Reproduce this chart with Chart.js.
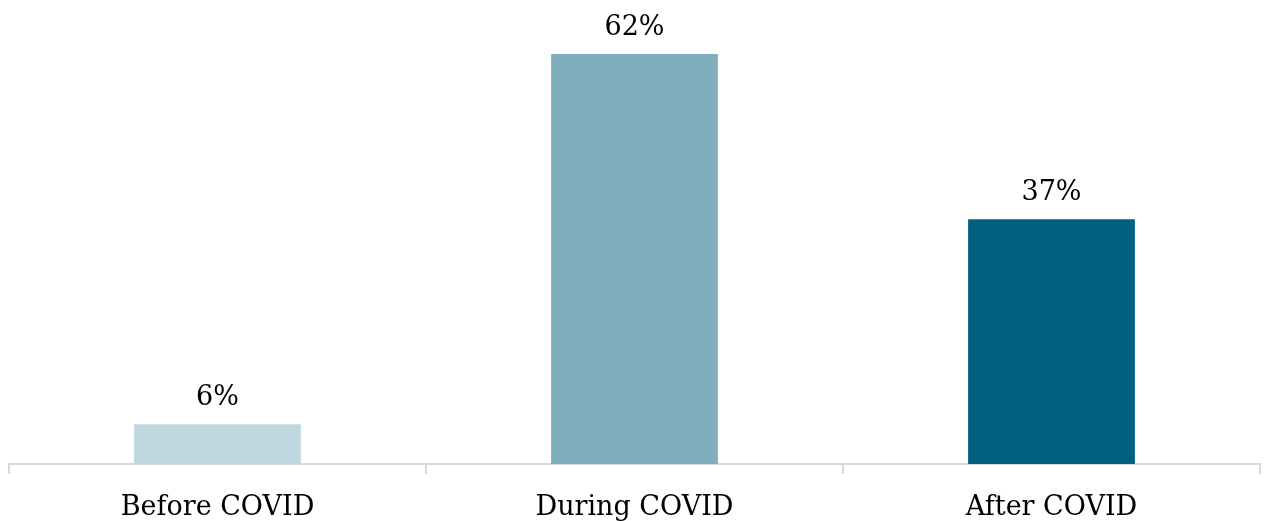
<!DOCTYPE html>
<html>
<head>
<meta charset="utf-8">
<script src="https://cdn.jsdelivr.net/npm/chart.js@4.4.1/dist/chart.umd.min.js"></script>
<style>
  html, body { margin: 0; padding: 0; background: #ffffff; }
  #wrap { width: 1265px; height: 521px; position: relative; }
</style>
</head>
<body>
<div id="wrap"><canvas id="c"></canvas></div>
<script>
// Share of respondents by period
const categories = ['Before COVID', 'During COVID', 'After COVID'];
const shares = [6, 62, 37];
const barColors = ['#bfd8df', '#80aebd', '#00617f'];

const FONT = "'DejaVu Serif', 'Liberation Serif', serif";

// Percentage labels above each bar
const valueLabels = {
  id: 'valueLabels',
  afterDatasetsDraw(chart) {
    const ctx = chart.ctx;
    const meta = chart.getDatasetMeta(0);
    ctx.save();
    ctx.font = "27px " + FONT;
    ctx.fillStyle = '#000000';
    ctx.textAlign = 'center';
    ctx.textBaseline = 'alphabetic';
    meta.data.forEach((bar, i) => {
      ctx.fillText(shares[i] + '%', bar.x, bar.y - 19);
    });
    ctx.restore();
  }
};

new Chart(document.getElementById('c'), {
  type: 'bar',
  data: {
    labels: categories,
    datasets: [{
      data: shares,
      backgroundColor: barColors,
      borderWidth: 0,
      barPercentage: 0.4,
      categoryPercentage: 1.0
    }]
  },
  options: {
    responsive: true,
    maintainAspectRatio: false,
    animation: false,
    layout: { padding: { left: 9, right: 5, top: 1, bottom: 0 } },
    plugins: {
      legend: { display: false },
      tooltip: { enabled: false }
    },
    scales: {
      x: {
        grid: {
          display: true,
          drawOnChartArea: false,
          drawTicks: true,
          tickLength: 10,
          color: '#d9d9d9',
          lineWidth: 2,
          offset: true
        },
        border: { display: true, color: '#d9d9d9', width: 2 },
        ticks: {
          color: '#000000',
          font: { family: FONT, size: 27 },
          padding: 18,
          maxRotation: 0
        },
        afterFit(scale) { scale.height = 57; }
      },
      y: {
        display: false,
        min: 0,
        max: 70
      }
    }
  },
  plugins: [valueLabels]
});
</script>
</body>
</html>
